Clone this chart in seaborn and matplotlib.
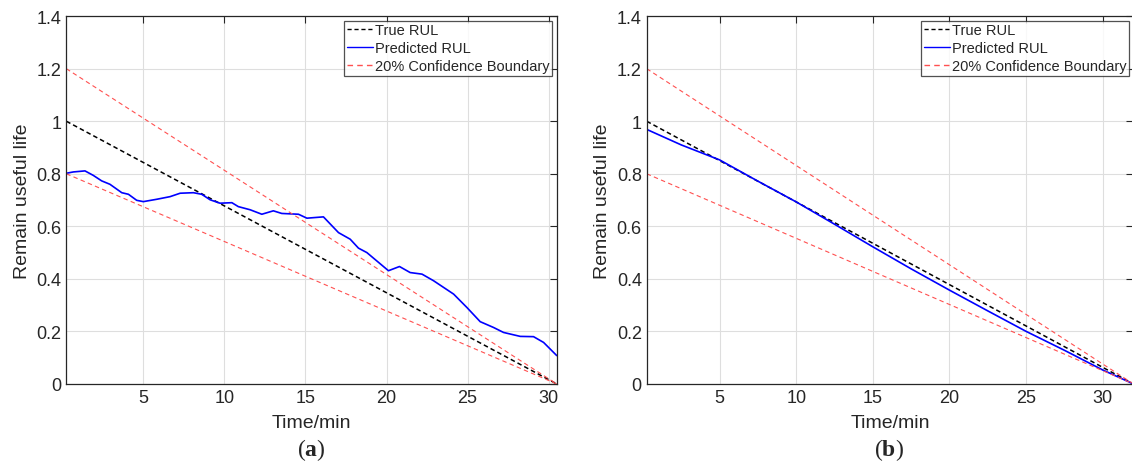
import matplotlib
matplotlib.use("Agg")
import matplotlib.pyplot as plt
import seaborn as sns

# panel (a) data
a_limits = [0.25, 30.5]
a_true = [1.0, 0.0]
a_upper = [1.2, 0.0]
a_lower = [0.8, 0.0]
a_time = [0.25, 0.68, 1.40, 1.91, 2.43, 2.94, 3.67, 4.08, 4.59, 5.00, 5.83, 6.65,
          7.27, 8.09, 8.60, 9.12, 9.73, 10.46, 10.86, 11.59, 12.31, 13.02, 13.54,
          14.57, 15.09, 16.11, 17.04, 17.76, 18.27, 18.79, 20.12, 20.80, 21.46,
          22.19, 22.90, 24.14, 24.96, 25.78, 26.60, 27.22, 28.25, 29.07, 29.69, 30.5]
a_pred = [0.802, 0.807, 0.811, 0.794, 0.773, 0.760, 0.728, 0.722, 0.699, 0.694, 0.703,
          0.713, 0.726, 0.728, 0.722, 0.701, 0.688, 0.690, 0.675, 0.663, 0.646, 0.659,
          0.649, 0.646, 0.631, 0.636, 0.576, 0.551, 0.517, 0.500, 0.431, 0.447, 0.424,
          0.418, 0.393, 0.342, 0.291, 0.237, 0.215, 0.196, 0.181, 0.180, 0.158, 0.108]

# panel (b) data
b_limits = [0.25, 32.0]
b_true = [1.0, 0.0]
b_upper = [1.2, 0.0]
b_lower = [0.8, 0.0]
b_time = [0.25, 2.5, 5, 7.5, 10, 12.5, 15, 17.5, 20, 22.5, 25, 27.5, 30, 32.0]
b_pred = [0.969, 0.910, 0.853, 0.772, 0.693, 0.608, 0.522, 0.438, 0.357, 0.278,
          0.200, 0.128, 0.053, 0.0]

x_ticks = [5, 10, 15, 20, 25, 30]
y_ticks = [0, 0.2, 0.4, 0.6, 0.8, 1.0, 1.2, 1.4]
y_ticklabels = ['0', '0.2', '0.4', '0.6', '0.8', '1', '1.2', '1.4']

sns.set_style("white")
plt.rcParams['font.family'] = ['Liberation Sans', 'DejaVu Sans']
plt.rcParams['mathtext.fontset'] = 'custom'
plt.rcParams['mathtext.bf'] = 'Liberation Serif:bold'
plt.rcParams['mathtext.rm'] = 'Liberation Serif'

fig = plt.figure(figsize=(11.32, 4.77), dpi=100)
ax_a = fig.add_axes([0.0586, 0.193, 0.4332, 0.771])
ax_b = fig.add_axes([0.5713, 0.193, 0.4300, 0.771])

red = '#ff5050'


def draw_panel(ax, limits, true, upper, lower, t, pred, tag):
    sns.lineplot(x=limits, y=true, ax=ax, color='black', lw=1.1,
                 linestyle=(0, (3, 2)), label='True RUL')
    sns.lineplot(x=t, y=pred, ax=ax, color='#0000ff', lw=1.2, label='Predicted RUL')
    sns.lineplot(x=limits, y=upper, ax=ax, color=red, lw=0.8,
                 linestyle=(0, (4, 3)), label='20% Confidence Boundary')
    sns.lineplot(x=limits, y=lower, ax=ax, color=red, lw=0.8,
                 linestyle=(0, (4, 3)), label='_nolegend_')
    ax.set_xlim(limits)
    ax.set_ylim(0, 1.4)
    ax.set_xticks(x_ticks)
    ax.set_yticks(y_ticks)
    ax.set_yticklabels(y_ticklabels)
    ax.grid(True, color='#dedede', lw=0.8)
    ax.tick_params(direction='in', top=True, right=True, labelsize=13,
                   colors='#262626', length=5, width=0.8)
    for s in ax.spines.values():
        s.set_color('#262626')
        s.set_linewidth(0.9)
    ax.set_xlabel('Time/min', fontsize=14, color='#262626', labelpad=6)
    ax.set_ylabel('Remain useful life', fontsize=14, color='#262626', labelpad=4)
    leg = ax.legend(loc='upper right', fontsize=10.5, frameon=True, fancybox=False,
                    handlelength=1.8, handletextpad=0.1, borderpad=0.2,
                    labelspacing=0.25, borderaxespad=0.3)
    leg.get_frame().set_edgecolor('#262626')
    leg.get_frame().set_linewidth(0.9)
    for ln in leg.get_lines():
        ln.set_linewidth(1.0)
    bb = ax.get_position()
    fig.text((bb.x0 + min(bb.x1, 1.0)) / 2, 0.03, '($\\mathbf{' + tag + '}$)',
             ha='center', va='bottom', fontsize=17, family='Liberation Serif')


draw_panel(ax_a, a_limits, a_true, a_upper, a_lower, a_time, a_pred, 'a')
draw_panel(ax_b, b_limits, b_true, b_upper, b_lower, b_time, b_pred, 'b')

fig.savefig('out.png', dpi=100)
